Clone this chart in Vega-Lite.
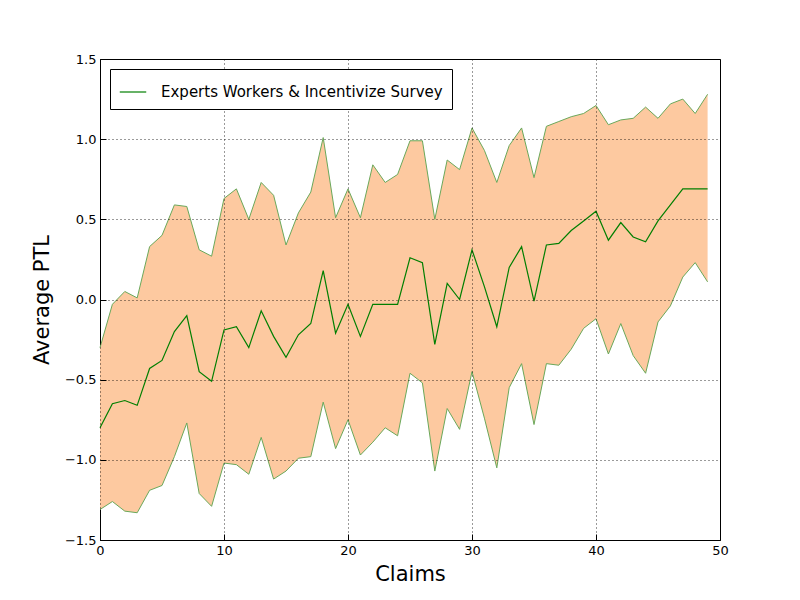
{
  "$schema": "https://vega.github.io/schema/vega-lite/v6.json",
  "width": 620,
  "height": 481,
  "autosize": "none",
  "padding": {"left": 100, "top": 59, "right": 80, "bottom": 60},
  "background": "white",
  "data": {"values": [
    {"claim":0,"mean":-0.80,"upper":-0.30,"lower":-1.31},
    {"claim":1,"mean":-0.65,"upper":-0.03,"lower":-1.26},
    {"claim":2,"mean":-0.63,"upper":0.05,"lower":-1.32},
    {"claim":3,"mean":-0.66,"upper":0.01,"lower":-1.33},
    {"claim":4,"mean":-0.43,"upper":0.33,"lower":-1.19},
    {"claim":5,"mean":-0.38,"upper":0.40,"lower":-1.16},
    {"claim":6,"mean":-0.20,"upper":0.59,"lower":-0.98},
    {"claim":7,"mean":-0.10,"upper":0.58,"lower":-0.77},
    {"claim":8,"mean":-0.45,"upper":0.31,"lower":-1.21},
    {"claim":9,"mean":-0.51,"upper":0.27,"lower":-1.29},
    {"claim":10,"mean":-0.19,"upper":0.63,"lower":-1.02},
    {"claim":11,"mean":-0.17,"upper":0.69,"lower":-1.03},
    {"claim":12,"mean":-0.30,"upper":0.50,"lower":-1.09},
    {"claim":13,"mean":-0.07,"upper":0.73,"lower":-0.86},
    {"claim":14,"mean":-0.23,"upper":0.65,"lower":-1.12},
    {"claim":15,"mean":-0.36,"upper":0.34,"lower":-1.07},
    {"claim":16,"mean":-0.22,"upper":0.54,"lower":-0.99},
    {"claim":17,"mean":-0.15,"upper":0.67,"lower":-0.98},
    {"claim":18,"mean":0.18,"upper":1.01,"lower":-0.64},
    {"claim":19,"mean":-0.21,"upper":0.51,"lower":-0.93},
    {"claim":20,"mean":-0.03,"upper":0.69,"lower":-0.75},
    {"claim":21,"mean":-0.23,"upper":0.51,"lower":-0.97},
    {"claim":22,"mean":-0.03,"upper":0.84,"lower":-0.89},
    {"claim":23,"mean":-0.03,"upper":0.73,"lower":-0.80},
    {"claim":24,"mean":-0.03,"upper":0.78,"lower":-0.85},
    {"claim":25,"mean":0.26,"upper":0.99,"lower":-0.46},
    {"claim":26,"mean":0.23,"upper":0.99,"lower":-0.52},
    {"claim":27,"mean":-0.28,"upper":0.50,"lower":-1.07},
    {"claim":28,"mean":0.10,"upper":0.87,"lower":-0.68},
    {"claim":29,"mean":0.00,"upper":0.81,"lower":-0.81},
    {"claim":30,"mean":0.31,"upper":1.07,"lower":-0.45},
    {"claim":31,"mean":0.08,"upper":0.93,"lower":-0.74},
    {"claim":32,"mean":-0.17,"upper":0.73,"lower":-1.05},
    {"claim":33,"mean":0.20,"upper":0.96,"lower":-0.55},
    {"claim":34,"mean":0.33,"upper":1.07,"lower":-0.40},
    {"claim":35,"mean":-0.01,"upper":0.76,"lower":-0.78},
    {"claim":36,"mean":0.34,"upper":1.08,"lower":-0.40},
    {"claim":37,"mean":0.35,"upper":1.11,"lower":-0.41},
    {"claim":38,"mean":0.43,"upper":1.14,"lower":-0.31},
    {"claim":39,"mean":0.49,"upper":1.16,"lower":-0.18},
    {"claim":40,"mean":0.55,"upper":1.21,"lower":-0.12},
    {"claim":41,"mean":0.37,"upper":1.09,"lower":-0.34},
    {"claim":42,"mean":0.48,"upper":1.12,"lower":-0.15},
    {"claim":43,"mean":0.39,"upper":1.13,"lower":-0.35},
    {"claim":44,"mean":0.36,"upper":1.20,"lower":-0.46},
    {"claim":45,"mean":0.49,"upper":1.13,"lower":-0.14},
    {"claim":46,"mean":0.59,"upper":1.22,"lower":-0.04},
    {"claim":47,"mean":0.69,"upper":1.25,"lower":0.14},
    {"claim":48,"mean":0.69,"upper":1.16,"lower":0.23},
    {"claim":49,"mean":0.69,"upper":1.28,"lower":0.11}
  ]},
  "encoding": {
    "x": {"field": "claim", "type": "quantitative", "title": "Claims",
      "scale": {"domain": [0, 50], "nice": false},
      "axis": {"values": [0,10,20,30,40,50], "grid": true, "zindex": 1}}
  },
  "layer": [
    {
      "mark": {"type": "area", "color": "#fdc9a0", "opacity": 1},
      "encoding": {
        "y": {"field": "upper", "type": "quantitative", "title": "Average PTL",
          "scale": {"domain": [-1.5, 1.5], "nice": false},
          "axis": {"values": [-1.5,-1,-0.5,0,0.5,1,1.5], "format": ".1f", "grid": true, "zindex": 1}},
        "y2": {"field": "lower"}
      }
    },
    {
      "mark": {"type": "line", "color": "#6aa85a", "strokeWidth": 1},
      "encoding": {"y": {"field": "upper", "type": "quantitative"}}
    },
    {
      "mark": {"type": "line", "color": "#6aa85a", "strokeWidth": 1},
      "encoding": {"y": {"field": "lower", "type": "quantitative"}}
    },
    {
      "mark": {"type": "line", "strokeWidth": 1.2},
      "encoding": {
        "y": {"field": "mean", "type": "quantitative"},
        "color": {"datum": "Experts Workers & Incentivize Survey", "type": "nominal",
          "scale": {"range": ["#007f00"]},
          "legend": {"title": null, "orient": "top-left", "offset": 10, "symbolType": "stroke",
            "symbolSize": 700, "symbolStrokeWidth": 1.2, "labelFontSize": 15, "labelFont": "DejaVu Sans",
            "labelColor": "black", "labelLimit": 600, "labelOffset": 14, "zindex": 2,
            "strokeColor": "black", "fillColor": "white", "padding": 9, "cornerRadius": 0}}
      }
    }
  ],
  "config": {
    "view": {"stroke": "black", "strokeWidth": 1},
    "font": "DejaVu Sans",
    "axis": {
      "domain": false, "tickColor": "black", "tickSize": -6, "labelPadding": 10,
      "labelFontSize": 13, "labelColor": "black", "labelFont": "DejaVu Sans",
      "titleFontSize": 21, "titleFontWeight": "normal", "titleColor": "black", "titleFont": "DejaVu Sans",
      "gridColor": "black", "gridDash": [1, 3], "gridOpacity": 1, "gridWidth": 0.8,
      "labelFlush": false, "labelOverlap": false
    },
    "axisX": {"titlePadding": 6},
    "axisY": {"titlePadding": 12}
  }
}
